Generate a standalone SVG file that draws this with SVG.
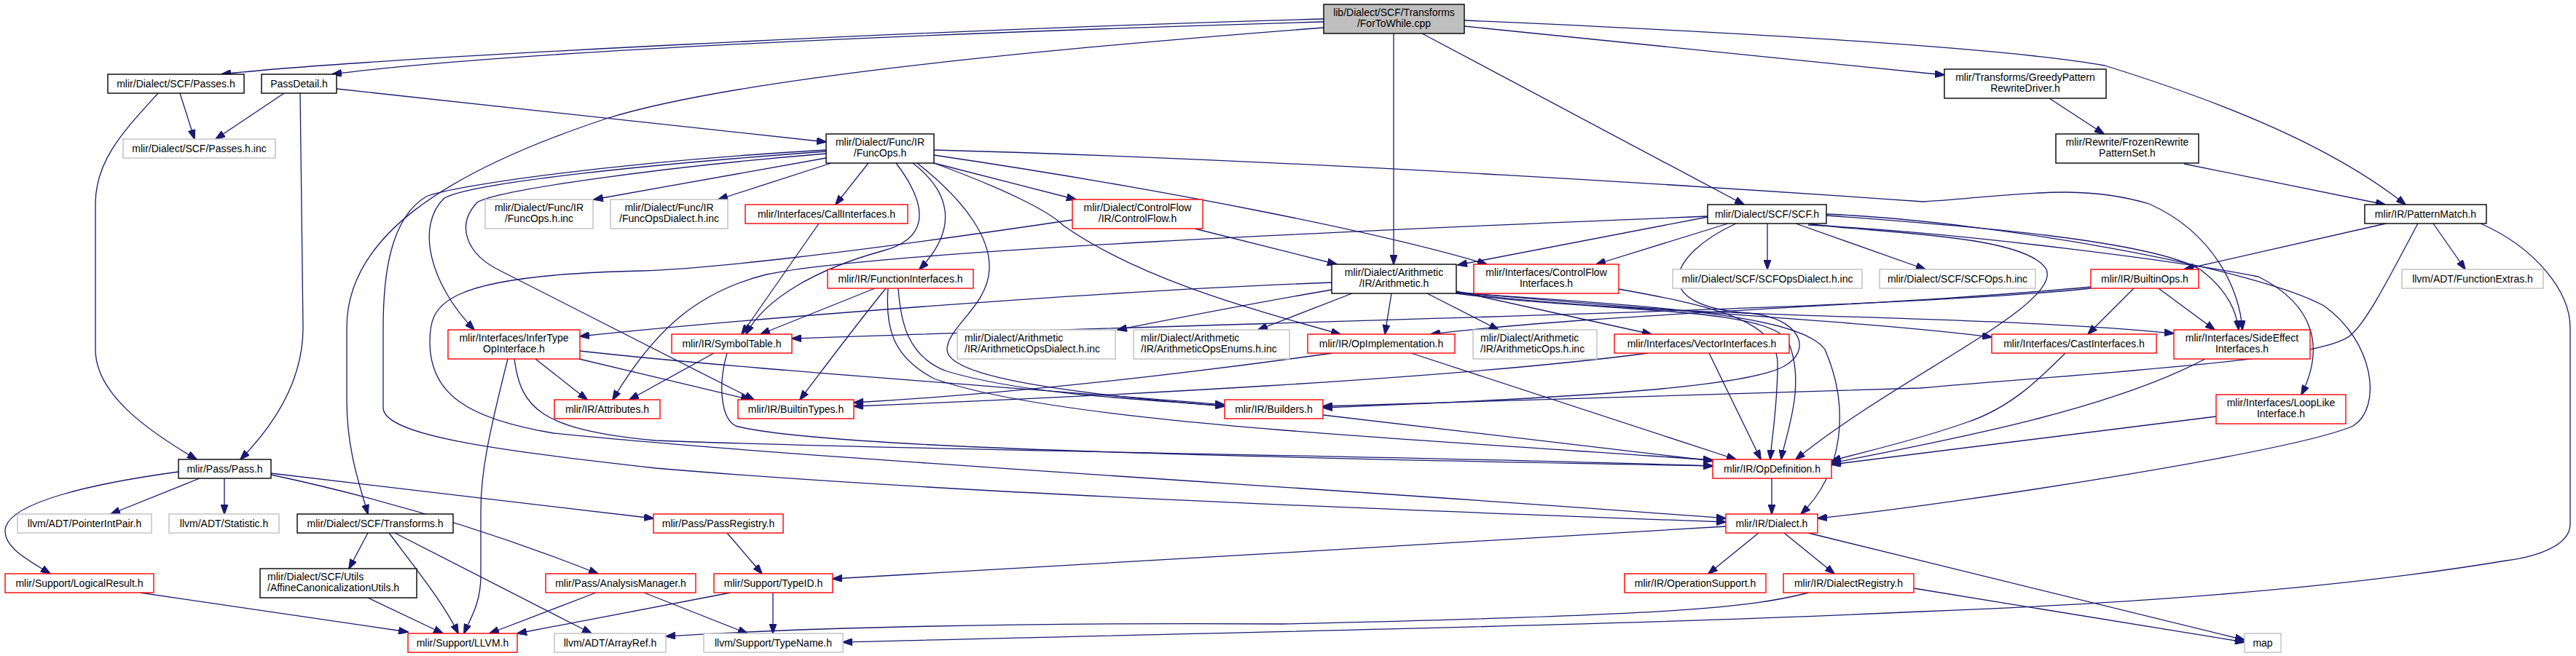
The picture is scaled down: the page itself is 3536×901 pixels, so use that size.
<svg xmlns="http://www.w3.org/2000/svg" width="3536" height="901" viewBox="0 0 3536 901">
<style>
rect{fill:#fff;stroke-width:1.4}
.n rect{stroke:#000}
.r rect{stroke:#ff0000}
.g rect{stroke:#bfbfbf}
.root rect{fill:#bfbfbf;stroke:#000}
text{font-family:"Liberation Sans",Arial,sans-serif;font-size:14px;fill:#000;text-anchor:middle}
text.l{text-anchor:start}
#edges path{fill:none;stroke:#191970;stroke-width:1.3;marker-end:url(#a)}
</style>
<defs>
<marker id="a" markerWidth="14" markerHeight="10" refX="13" refY="5" orient="auto" markerUnits="userSpaceOnUse"><path d="M0,0 L14,5 L0,10 z" fill="#191970" stroke="#191970" stroke-width="1"/></marker>
</defs>
<rect x="0" y="0" width="3536" height="901" style="fill:#fff;stroke:none"/>
<g id="edges">
<path d="M1817,26 C1300,40 500,80 304,102"/>
<path d="M1817,30 C1300,45 700,70 456,102"/>
<path d="M1817,38 C1400,70 1000,110 832,163 C600,240 476,330 476,450 L476,550 C476,620 495,670 505,706"/>
<path d="M1913,46 L1913,363"/>
<path d="M1952,46 L2394,281"/>
<path d="M2010,36 L2669,103"/>
<path d="M2010,28 C2400,45 2750,65 2889,90 C3050,140 3200,200 3302,281"/>
<path d="M247,128 L267,191"/>
<path d="M217,128 C170,180 131,220 131,280 L131,480 C131,540 200,590 270,631"/>
<path d="M390,128 L296,191"/>
<path d="M412,128 L416,450 C416,520 380,580 330,631"/>
<path d="M462,122 L1134,195"/>
<path d="M1134,217 L815,274"/>
<path d="M1141,224 L986,274"/>
<path d="M1192,224 L1147,281"/>
<path d="M1253,224 C1300,260 1320,310 1262,370"/>
<path d="M1282,224 L1477,274"/>
<path d="M1230,224 C1280,290 1270,330 1210,345 C1120,370 1050,410 1024,459"/>
<path d="M1282,213 C1600,260 1900,320 2041,363"/>
<path d="M1282,206 C1800,220 2400,260 2640,277 C2760,270 2850,250 2950,280 C3040,320 3075,400 3078,453"/>
<path d="M1134,208 C900,225 650,250 610,272 C570,310 590,390 651,453"/>
<path d="M1134,206 C850,222 620,255 585,270 C535,300 526,380 526,450 L526,560 C526,600 700,620 900,643 C1300,677 1900,700 2369,717"/>
<path d="M1134,211 C900,230 680,262 655,278 C625,310 640,350 689,373 C760,410 900,480 1035,549"/>
<path d="M1259,224 C1330,280 1360,330 1358,370 C1356,420 1300,450 1300,480 C1300,510 1400,535 1681,558"/>
<path d="M1282,224 C1380,260 1440,290 1460,310 C1560,380 1700,420 1840,459"/>
<path d="M1124,307 L1018,459"/>
<path d="M1201,396 L1044,459"/>
<path d="M1216,396 C1180,440 1150,480 1098,549"/>
<path d="M1219,396 C1215,450 1225,490 1282,520 C1450,580 1900,600 2351,632"/>
<path d="M1233,396 C1236,440 1245,490 1300,510 C1400,540 1550,548 1681,557"/>
<path d="M1640,314 L1835,363"/>
<path d="M1472,302 C1150,350 960,370 880,372 C600,378 590,420 590,470 C590,540 640,575 760,595 C1100,630 1900,675 2369,712"/>
<path d="M735,493 L806,549"/>
<path d="M697,493 C670,600 660,650 660,700 L660,790 C660,830 645,850 637,870"/>
<path d="M706,493 C715,560 740,590 900,605 C1300,620 1900,625 2351,640"/>
<path d="M796,482 C1000,505 1300,525 1681,556"/>
<path d="M795,493 L1030,549"/>
<path d="M1828,388 C1500,400 1000,440 796,462"/>
<path d="M1828,398 C1700,420 1600,440 1534,453"/>
<path d="M1856,403 L1727,453"/>
<path d="M1910,403 L1901,459"/>
<path d="M1959,403 L2057,453"/>
<path d="M1999,400 L2267,459"/>
<path d="M1999,401 C2300,430 2550,440 2734,463"/>
<path d="M1999,402 C2300,440 2700,430 2984,458"/>
<path d="M1999,403 C2200,430 2430,420 2455,470 C2480,530 2450,600 2445,631"/>
<path d="M1999,402 C2250,420 2470,430 2505,480 C2540,560 2530,650 2472,706"/>
<path d="M2222,397 C2350,420 2440,440 2440,500 C2440,560 2432,600 2430,631"/>
<path d="M2344,298 L2001,364"/>
<path d="M2372,307 L2191,363"/>
<path d="M2426,307 L2426,370"/>
<path d="M2465,307 L2643,370"/>
<path d="M2344,297 C1900,315 1200,345 1052,377 C960,400 900,450 841,549"/>
<path d="M2383,307 C2290,350 2260,420 2400,430 C2470,436 2490,480 2449,503 C2400,530 2200,545 1816,560"/>
<path d="M2482,307 C2560,320 2780,320 2809,370 C2830,420 2600,520 2465,631"/>
<path d="M2507,296 C2700,310 2950,330 3020,370 C3060,400 3070,430 3073,453"/>
<path d="M2482,309 C2700,320 3000,360 3100,380 C3180,420 3190,480 3159,542"/>
<path d="M2507,294 C2750,305 3100,370 3190,420 C3260,470 3270,560 3230,585 C3150,620 2700,690 2495,712"/>
<path d="M2813,135 L2888,184"/>
<path d="M2998,225 L3274,281"/>
<path d="M3275,307 L2998,370"/>
<path d="M3340,307 L3384,370"/>
<path d="M3319,307 C3280,380 3250,440 3227,460 C3190,495 2900,510 2636,533 C2300,545 2000,552 1816,558"/>
<path d="M3405,307 C3480,340 3528,400 3528,450 L3528,720 C3528,750 3480,765 3440,770 C3200,810 2900,830 2636,840 C2200,860 1700,868 1157,882"/>
<path d="M2929,396 L2866,459"/>
<path d="M2963,396 L3040,453"/>
<path d="M2870,396 C2600,425 1800,440 1087,465"/>
<path d="M2870,394 C2600,420 2200,430 1964,459"/>
<path d="M1829,485 C1650,510 1400,540 1172,553"/>
<path d="M1937,485 L2383,631"/>
<path d="M2262,485 C2000,520 1500,545 1172,558"/>
<path d="M2346,485 L2417,631"/>
<path d="M2835,485 C2800,520 2760,560 2700,580 C2630,605 2560,620 2514,633"/>
<path d="M3027,493 C2900,560 2700,600 2514,636"/>
<path d="M3042,572 L2514,638"/>
<path d="M980,485 L864,549"/>
<path d="M998,485 C985,530 990,575 1010,585 C1100,610 1500,625 2351,640"/>
<path d="M1816,570 L2351,633"/>
<path d="M2432,657 L2432,706"/>
<path d="M2414,732 L2345,788"/>
<path d="M2449,732 L2518,788"/>
<path d="M2369,723 C2000,745 1500,775 1143,795"/>
<path d="M2482,732 L3081,879"/>
<path d="M2627,808 L3081,882"/>
<path d="M2483,814 C2400,835 2300,845 1760,857 C1400,855 1100,862 914,874"/>
<path d="M1061,814 L1061,870"/>
<path d="M1003,814 L710,870"/>
<path d="M998,732 L1046,788"/>
<path d="M274,657 L152,706"/>
<path d="M308,657 L308,706"/>
<path d="M245,648 C120,665 20,690 8,723 C0,750 40,770 69,788"/>
<path d="M372,650 L897,712"/>
<path d="M372,652 C550,690 700,740 821,788"/>
<path d="M818,814 L672,870"/>
<path d="M884,814 L1026,870"/>
<path d="M505,732 L479,781"/>
<path d="M534,732 C570,780 610,830 629,870"/>
<path d="M542,732 L812,870"/>
<path d="M505,821 L608,870"/>
<path d="M192,814 L560,868"/>
</g>
<g id="root" class="root"><rect x="1817" y="6" width="193" height="40"/><text x="1913.5" y="22">lib/Dialect/SCF/Transforms</text><text x="1913.5" y="37">/ForToWhile.cpp</text></g>
<g id="passes" class="n"><rect x="148" y="102" width="187" height="26"/><text x="241.5" y="120">mlir/Dialect/SCF/Passes.h</text></g>
<g id="passdetail" class="n"><rect x="359" y="102" width="103" height="26"/><text x="410.5" y="120">PassDetail.h</text></g>
<g id="passesinc" class="g"><rect x="169" y="191" width="209" height="26"/><text x="273.5" y="209">mlir/Dialect/SCF/Passes.h.inc</text></g>
<g id="funcops" class="n"><rect x="1134" y="184" width="148" height="40"/><text x="1208" y="200">mlir/Dialect/Func/IR</text><text x="1208" y="215">/FuncOps.h</text></g>
<g id="funcopsinc" class="g"><rect x="666" y="274" width="148" height="40"/><text x="740" y="290">mlir/Dialect/Func/IR</text><text x="740" y="305">/FuncOps.h.inc</text></g>
<g id="funcopsdialinc" class="g"><rect x="838" y="274" width="161" height="40"/><text x="918.5" y="290">mlir/Dialect/Func/IR</text><text x="918.5" y="305">/FuncOpsDialect.h.inc</text></g>
<g id="callif" class="r"><rect x="1023" y="281" width="223" height="26"/><text x="1134.5" y="299">mlir/Interfaces/CallInterfaces.h</text></g>
<g id="cf" class="r"><rect x="1472" y="274" width="179" height="40"/><text x="1561.5" y="290">mlir/Dialect/ControlFlow</text><text x="1561.5" y="305">/IR/ControlFlow.h</text></g>
<g id="funcif" class="r"><rect x="1136" y="370" width="200" height="26"/><text x="1236" y="388">mlir/IR/FunctionInterfaces.h</text></g>
<g id="scf" class="n"><rect x="2344" y="281" width="163" height="26"/><text x="2425.5" y="299">mlir/Dialect/SCF/SCF.h</text></g>
<g id="arith" class="n"><rect x="1828" y="363" width="171" height="40"/><text x="1913.5" y="379">mlir/Dialect/Arithmetic</text><text x="1913.5" y="394">/IR/Arithmetic.h</text></g>
<g id="cfif" class="r"><rect x="2023" y="363" width="199" height="40"/><text x="2122.5" y="379">mlir/Interfaces/ControlFlow</text><text x="2122.5" y="394">Interfaces.h</text></g>
<g id="scfdialinc" class="g"><rect x="2296" y="370" width="260" height="26"/><text x="2426" y="388">mlir/Dialect/SCF/SCFOpsDialect.h.inc</text></g>
<g id="scfopsinc" class="g"><rect x="2580" y="370" width="214" height="26"/><text x="2687" y="388">mlir/Dialect/SCF/SCFOps.h.inc</text></g>
<g id="greedy" class="n"><rect x="2669" y="95" width="222" height="40"/><text x="2780" y="111">mlir/Transforms/GreedyPattern</text><text x="2780" y="126">RewriteDriver.h</text></g>
<g id="frozen" class="n"><rect x="2822" y="184" width="196" height="40"/><text x="2920" y="200">mlir/Rewrite/FrozenRewrite</text><text x="2920" y="215">PatternSet.h</text></g>
<g id="pm" class="n"><rect x="3246" y="281" width="167" height="26"/><text x="3329.5" y="299">mlir/IR/PatternMatch.h</text></g>
<g id="builtinops" class="r"><rect x="2870" y="370" width="148" height="26"/><text x="2944" y="388">mlir/IR/BuiltinOps.h</text></g>
<g id="funcextras" class="g"><rect x="3297" y="370" width="194" height="26"/><text x="3394" y="388">llvm/ADT/FunctionExtras.h</text></g>
<g id="infertype" class="r"><rect x="615" y="453" width="181" height="40"/><text x="705.5" y="469">mlir/Interfaces/InferType</text><text x="705.5" y="484">OpInterface.h</text></g>
<g id="attrs" class="r"><rect x="761" y="549" width="145" height="26"/><text x="833.5" y="567">mlir/IR/Attributes.h</text></g>
<g id="pass" class="n"><rect x="245" y="631" width="127" height="26"/><text x="308.5" y="649">mlir/Pass/Pass.h</text></g>
<g id="pip" class="g"><rect x="24" y="706" width="184" height="26"/><text x="116" y="724">llvm/ADT/PointerIntPair.h</text></g>
<g id="stat" class="g"><rect x="232" y="706" width="151" height="26"/><text x="307.5" y="724">llvm/ADT/Statistic.h</text></g>
<g id="scftrans" class="n"><rect x="408" y="706" width="214" height="26"/><text x="515" y="724">mlir/Dialect/SCF/Transforms.h</text></g>
<g id="logical" class="r"><rect x="7" y="788" width="204" height="26"/><text x="109" y="806">mlir/Support/LogicalResult.h</text></g>
<g id="affine" class="n"><rect x="357" y="781" width="215" height="40"/><text class="l" x="367" y="797">mlir/Dialect/SCF/Utils</text><text class="l" x="367" y="812">/AffineCanonicalizationUtils.h</text></g>
<g id="analysis" class="r"><rect x="749" y="788" width="206" height="26"/><text x="852" y="806">mlir/Pass/AnalysisManager.h</text></g>
<g id="llvm" class="r"><rect x="560" y="870" width="150" height="26"/><text x="635" y="888">mlir/Support/LLVM.h</text></g>
<g id="arrayref" class="g"><rect x="761" y="870" width="153" height="26"/><text x="837.5" y="888">llvm/ADT/ArrayRef.h</text></g>
<g id="passreg" class="r"><rect x="897" y="706" width="178" height="26"/><text x="986" y="724">mlir/Pass/PassRegistry.h</text></g>
<g id="symtab" class="r"><rect x="922" y="459" width="165" height="26"/><text x="1004.5" y="477">mlir/IR/SymbolTable.h</text></g>
<g id="arithdialinc" class="g"><rect x="1314" y="453" width="217" height="40"/><text class="l" x="1324" y="469">mlir/Dialect/Arithmetic</text><text class="l" x="1324" y="484">/IR/ArithmeticOpsDialect.h.inc</text></g>
<g id="arithenumsinc" class="g"><rect x="1556" y="453" width="214" height="40"/><text class="l" x="1566" y="469">mlir/Dialect/Arithmetic</text><text class="l" x="1566" y="484">/IR/ArithmeticOpsEnums.h.inc</text></g>
<g id="builtintypes" class="r"><rect x="1013" y="549" width="159" height="26"/><text x="1092.5" y="567">mlir/IR/BuiltinTypes.h</text></g>
<g id="builders" class="r"><rect x="1681" y="549" width="135" height="26"/><text x="1748.5" y="567">mlir/IR/Builders.h</text></g>
<g id="typeid" class="r"><rect x="980" y="788" width="163" height="26"/><text x="1061.5" y="806">mlir/Support/TypeID.h</text></g>
<g id="typename" class="g"><rect x="966" y="870" width="191" height="26"/><text x="1061.5" y="888">llvm/Support/TypeName.h</text></g>
<g id="opimpl" class="r"><rect x="1795" y="459" width="202" height="26"/><text x="1896" y="477">mlir/IR/OpImplementation.h</text></g>
<g id="arithopsinc" class="g"><rect x="2022" y="453" width="170" height="40"/><text class="l" x="2032" y="469">mlir/Dialect/Arithmetic</text><text class="l" x="2032" y="484">/IR/ArithmeticOps.h.inc</text></g>
<g id="vectorif" class="r"><rect x="2216" y="459" width="240" height="26"/><text x="2336" y="477">mlir/Interfaces/VectorInterfaces.h</text></g>
<g id="opdef" class="r"><rect x="2351" y="631" width="163" height="26"/><text x="2432.5" y="649">mlir/IR/OpDefinition.h</text></g>
<g id="dialect" class="r"><rect x="2369" y="706" width="126" height="26"/><text x="2432" y="724">mlir/IR/Dialect.h</text></g>
<g id="opsupport" class="r"><rect x="2230" y="788" width="194" height="26"/><text x="2327" y="806">mlir/IR/OperationSupport.h</text></g>
<g id="dialreg" class="r"><rect x="2448" y="788" width="179" height="26"/><text x="2537.5" y="806">mlir/IR/DialectRegistry.h</text></g>
<g id="castif" class="r"><rect x="2734" y="459" width="226" height="26"/><text x="2847" y="477">mlir/Interfaces/CastInterfaces.h</text></g>
<g id="sideeffect" class="r"><rect x="2984" y="453" width="187" height="40"/><text x="3077.5" y="469">mlir/Interfaces/SideEffect</text><text x="3077.5" y="484">Interfaces.h</text></g>
<g id="looplike" class="r"><rect x="3042" y="542" width="178" height="40"/><text x="3131" y="558">mlir/Interfaces/LoopLike</text><text x="3131" y="573">Interface.h</text></g>
<g id="map" class="g"><rect x="3081" y="870" width="50" height="26"/><text x="3106" y="888">map</text></g>
</svg>
